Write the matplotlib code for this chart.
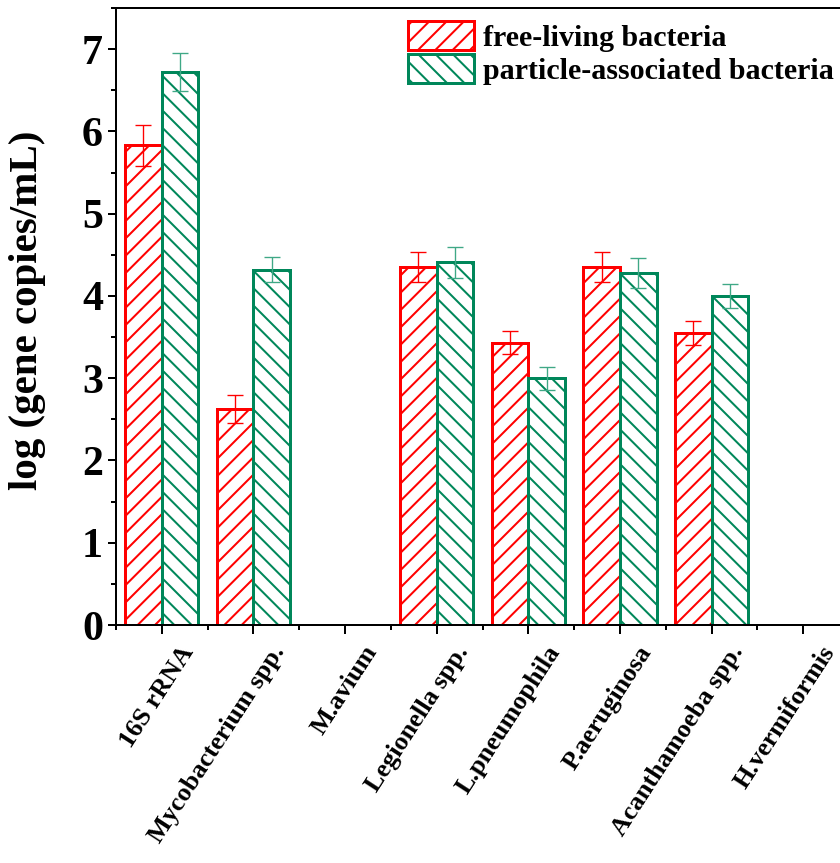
import matplotlib.pyplot as plt
import matplotlib.transforms as mtransforms
import numpy as np
from matplotlib.ticker import MultipleLocator

categories = ['16S rRNA', 'Mycobacterium spp.', 'M.avium', 'Legionella spp.',
              'L.pneumophila', 'P.aeruginosa', 'Acanthamoeba spp.', 'H.vermiformis']
free_living = [5.83, 2.62, 0, 4.35, 3.43, 4.35, 3.55, 0]
free_err = [0.25, 0.17, 0, 0.18, 0.14, 0.18, 0.15, 0]
particle = [6.72, 4.32, 0, 4.41, 3.00, 4.28, 4.00, 0]
particle_err = [0.23, 0.15, 0, 0.19, 0.14, 0.18, 0.15, 0]

red = '#FF0000'
green = '#00875A'

plt.rcParams['font.family'] = ['Liberation Serif', 'DejaVu Serif']
plt.rcParams['font.weight'] = 'bold'
plt.rcParams['hatch.linewidth'] = 1.4

# dpi picked so the hatch spacing comes out like the original
DPI = 104
fig = plt.figure(figsize=(840/DPI, 863/DPI), dpi=DPI)
ax = fig.add_axes([116/840, 1 - 625/863, (849 - 116)/840, (625 - 8)/863])
k = 108 / DPI  # keep sizes in pixels the same as tuned at 108 dpi

x = np.arange(len(categories))
w = 0.4
has = [v > 0 for v in free_living]
xs = x[has]
ax.bar(xs - w/2, np.array(free_living)[has], w, facecolor='white', edgecolor=red,
       hatch='//', linewidth=2*k, label='free-living bacteria', zorder=2)
ax.bar(xs + w/2, np.array(particle)[has], w, facecolor='white', edgecolor=green,
       hatch='\\\\', linewidth=2*k, label='particle-associated bacteria', zorder=2)
ax.errorbar(xs - w/2, np.array(free_living)[has], yerr=np.array(free_err)[has],
            fmt='none', ecolor=red, elinewidth=0.9*k, capsize=5.3*k, capthick=0.9*k, zorder=3)
ax.errorbar(xs + w/2, np.array(particle)[has], yerr=np.array(particle_err)[has],
            fmt='none', ecolor='#3FA886', elinewidth=0.9*k, capsize=5.3*k, capthick=0.9*k, zorder=3)

ax.set_xlim(-0.5, 7.5)
ax.set_ylim(0, 7.5)
ax.yaxis.set_major_locator(MultipleLocator(1))
ax.yaxis.set_minor_locator(MultipleLocator(0.5))
ax.set_xticks(x)
ax.set_xticks(np.arange(-0.5, 8, 1), minor=True)
ax.tick_params(axis='y', which='major', labelsize=28*k, length=5.3*k, width=1.33*k, direction='out')
ax.tick_params(axis='y', which='minor', length=3.3*k, width=1.33*k, direction='out')
ax.tick_params(axis='x', which='major', length=6*k, width=1.33*k, direction='out', pad=5*k)
ax.tick_params(axis='x', which='minor', length=3.3*k, width=1.33*k, direction='out')
ax.set_xticklabels(categories, rotation=57, ha='right', rotation_mode='anchor',
                   fontsize=17.5*k, fontweight='bold')
# nudge the rotated labels to the right, as in the original
off = mtransforms.ScaledTranslation(17/DPI, 0, fig.dpi_scale_trans)
for lab in ax.get_xticklabels():
    lab.set_transform(lab.get_transform() + off)
for lab in ax.get_yticklabels():
    lab.set_fontweight('bold')
for s in ['left', 'bottom', 'top']:
    ax.spines[s].set_linewidth(1.33*k)
ax.spines['right'].set_visible(False)

ax.set_ylabel('log (gene copies/mL)', fontsize=27.3*k, fontweight='bold')
ax.yaxis.set_label_coords(-0.095, 0.51)

ax.legend(loc='upper left', bbox_to_anchor=(0.37, 1.013), frameon=False,
          fontsize=20*k, handlelength=2.2, handleheight=1.1, handletextpad=0.3,
          labelspacing=0.08, borderaxespad=0.3)

fig.savefig('out.png', dpi=DPI)
